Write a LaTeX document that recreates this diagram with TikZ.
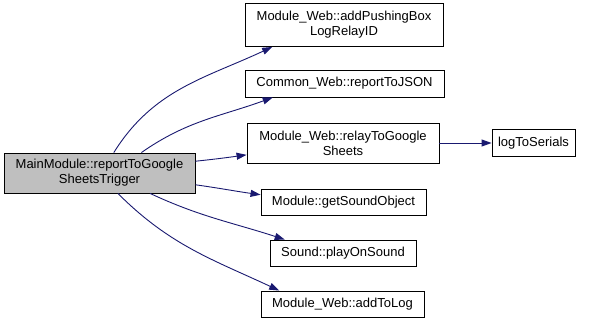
\documentclass[tikz,border=0pt]{standalone}
\usepackage{fontspec}
\setmainfont{Liberation Sans}
\usetikzlibrary{arrows.meta}
\definecolor{edgeblue}{HTML}{191970}
\definecolor{rootgrey}{HTML}{BFBFBF}

\begin{document}
\begin{tikzpicture}[x=1pt, y=1pt,
  every node/.style={draw, rectangle, fill=white, line width=0.9pt, inner sep=0pt, align=center, font=\fontsize{13}{15}\selectfont},
  callarrow/.style={draw=edgeblue, line width=0.9pt, -{Triangle[length=10pt, width=7pt]}, fill=none}]
\useasboundingbox (0,0) rectangle (592,322);
\node[fill=rootgrey, minimum width=191, minimum height=40] (CG1N0) at (99.5,149) {MainModule::reportToGoogle\\SheetsTrigger};
\node[minimum width=198, minimum height=43] (CG1N1) at (344,297) {Module\_Web::addPushingBox\\LogRelayID};
\node[minimum width=199, minimum height=27] (CG1N2) at (344.5,238.5) {Common\_Web::reportToJSON};
\node[minimum width=192, minimum height=40] (CG1N3) at (343,179) {Module\_Web::relayToGoogle\\Sheets};
\node[minimum width=83, minimum height=27] (CG1N4) at (533.5,179) {logToSerials};
\node[minimum width=165, minimum height=26] (CG1N5) at (343.5,120) {Module::getSoundObject};
\node[minimum width=146, minimum height=26] (CG1N6) at (343,69) {Sound::playOnSound};
\node[minimum width=163, minimum height=26] (CG1N7) at (342.5,18) {Module\_Web::addToLog};
\draw[callarrow] (CG1N0.55) to[out=58, in=205] (CG1N1.197);
\draw[callarrow] (CG1N0.26) to[out=35, in=200] (CG1N2.191);
\draw[callarrow] (CG1N0.7) to[out=6, in=188] (CG1N3.187);
\draw[callarrow] (CG1N0.353) to[out=-8, in=172] (CG1N5.175);
\draw[callarrow] (CG1N0.338) to[out=-25, in=162] (CG1N6.167);
\draw[callarrow] (CG1N0.312) to[out=-45, in=155] (CG1N7.168);
\draw[callarrow] (CG1N3) -- (CG1N4);
\end{tikzpicture}
\end{document}
